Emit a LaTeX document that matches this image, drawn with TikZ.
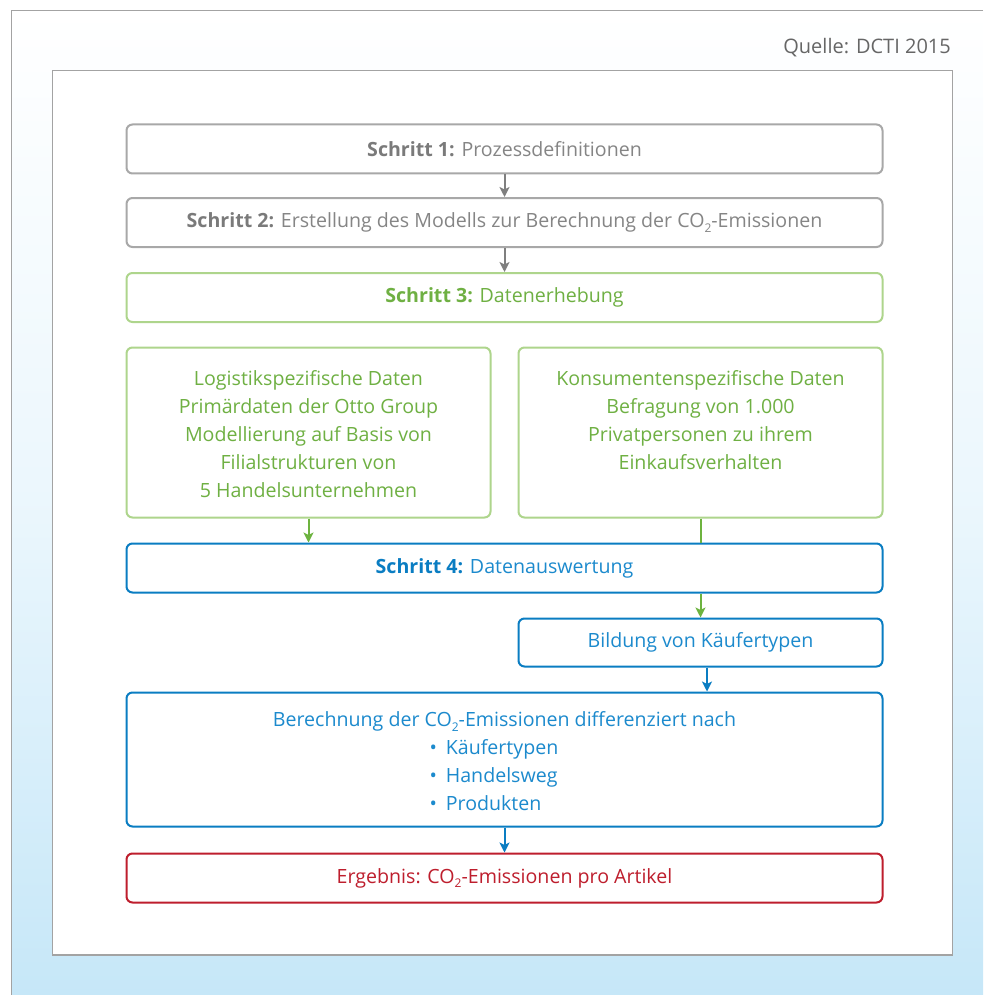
\documentclass[tikz,border=0pt]{standalone}
\usepackage{fontspec}
\setmainfont{Open Sans}
\usetikzlibrary{arrows.meta}
\definecolor{framegray}{HTML}{A3A3A3}
\definecolor{boxgray}{HTML}{A8A8A8}
\definecolor{txtgray}{HTML}{858585}
\definecolor{boldgray}{HTML}{7A7A7A}
\definecolor{arrgray}{HTML}{7F7F7F}
\definecolor{boxgreen}{HTML}{AED58C}
\definecolor{txtgreen}{HTML}{6FB043}
\definecolor{arrgreen}{HTML}{6DB33F}
\definecolor{boxblue}{HTML}{0A7DC2}
\definecolor{txtblue}{HTML}{1C8ACD}
\definecolor{boxred}{HTML}{BE1E2D}
\definecolor{bglight}{HTML}{C6E7F8}
\definecolor{srcgray}{HTML}{666666}
\tikzset{
  x=1pt, y=-1pt,
  stepbox/.style={draw, rounded corners=6pt, line width=2pt, fill=white,
    minimum height=49pt, inner sep=0pt, font=\fontsize{19.6}{28}\selectfont, align=center},
  graybox/.style={stepbox, draw=boxgray, text=txtgray},
  greenbox/.style={stepbox, draw=boxgreen, text=txtgreen},
  bluebox/.style={stepbox, draw=boxblue, text=txtblue},
  redbox/.style={stepbox, draw=boxred, text=boxred},
  wide/.style={minimum width=756pt},
  half/.style={minimum width=364pt},
  arr/.style={line width=2pt, -{Stealth[length=10pt,width=10pt,inset=2.5pt]}},
  plain/.style={line width=2pt},
}
\newcommand{\topblock}[3]{\begin{minipage}[c][#1][t]{#2}\centering #3\end{minipage}}
\newcommand{\cotwo}{CO\raisebox{-0.45ex}{\fontsize{12}{12}\selectfont 2}}
\newcommand{\bul}[1]{\makebox[0pt][l]{\hspace{-75pt}•\hspace{9pt}#1}}
\begin{document}
\begin{tikzpicture}
\useasboundingbox (0,0) rectangle (983,995);
% background
\shade[top color=white, bottom color=bglight, middle color=bglight!35] (11,10) rectangle (983,995);
\draw[framegray, line width=1.5pt] (983,10.5) -- (11.5,10.5) -- (11.5,995);
\draw[framegray, line width=1.5pt, fill=white] (52.5,70.5) rectangle (952.5,955);
\node[anchor=base east, text=srcgray, font=\fontsize{20}{22}\selectfont, inner sep=0pt] (src) at (951,54) {Quelle: DCTI 2015};

% boxes
\node[graybox, wide] (s1) at (504.5,149) {\textcolor{boldgray}{\textbf{Schritt 1:}} Prozessdefinitionen};
\node[graybox, wide] (s2) at (504.5,222.5) {\textcolor{boldgray}{\textbf{Schritt 2:}} Erstellung des Modells zur Berechnung der \cotwo-Emissionen};
\node[greenbox, wide] (s3) at (504.5,297.5) {\textbf{Schritt 3:} Datenerhebung};
\node[greenbox, half, minimum height=170pt] (dl) at (308.5,432.5) {\topblock{124pt}{340pt}{Logistikspezifische Daten\\Primärdaten der Otto Group\\Modellierung auf Basis von\\Filialstrukturen von\\5 Handelsunternehmen}};
\node[greenbox, half, minimum height=170pt] (dr) at (700.5,432.5) {\topblock{124pt}{340pt}{Konsumentenspezifische Daten\\Befragung von 1.000\\Privatpersonen zu ihrem\\Einkaufsverhalten}};
\node[bluebox, wide] (s4) at (504.5,568) {\textcolor{boxblue}{\textbf{Schritt 4:}} Datenauswertung};
\node[bluebox, half, minimum height=48pt] (kt) at (700.5,642.5) {Bildung von Käufertypen};
\node[bluebox, wide, minimum height=134pt] (calc) at (504.5,759.5) {\topblock{96pt}{700pt}{Berechnung der \cotwo-Emissionen differenziert nach\\\bul{Käufertypen}\\\bul{Handelsweg}\\\bul{Produkten}}};
\node[redbox, wide] (res) at (504.5,878) {Ergebnis: \cotwo-Emissionen pro Artikel};

% connectors
\draw[arr, arrgray] (s1.south) -- (s2.north);
\draw[arr, arrgray] (s2.south) -- (s3.north);
\draw[arr, arrgreen] (dl.south) -- (dl.south |- s4.north);
\draw[plain, arrgreen] (dr.south) -- (dr.south |- s4.north);
\draw[arr, arrgreen] (s4.south -| kt.north) -- (kt.north);
\coordinate (ktout) at ([xshift=6.5pt]kt.south);
\draw[arr, boxblue] (ktout) -- (ktout |- calc.north);
\draw[arr, boxblue] (calc.south) -- (res.north);
\end{tikzpicture}
\end{document}
